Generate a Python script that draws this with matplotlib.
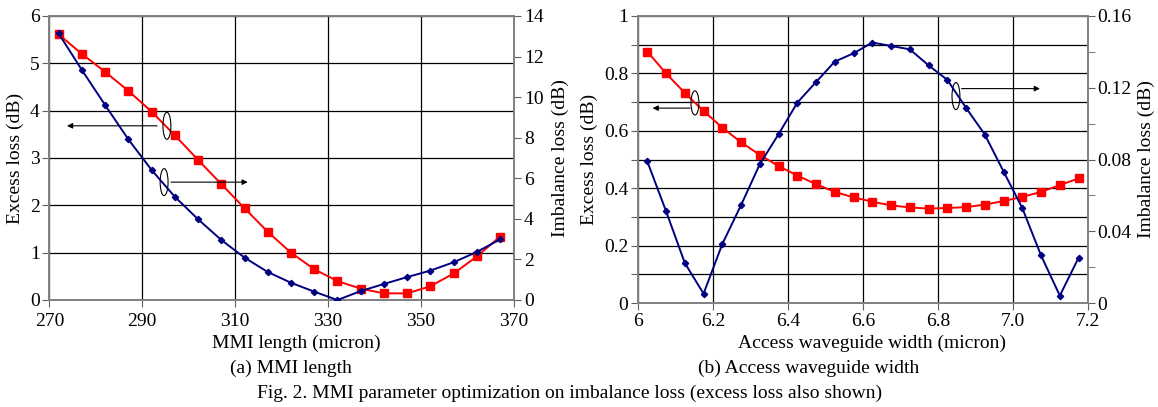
import numpy as np
import matplotlib
matplotlib.use("Agg")
from matplotlib import pyplot as plt
from matplotlib.patches import Ellipse
from matplotlib.ticker import MultipleLocator

# (a) MMI length sweep
mmi_length = [272, 277, 282, 287, 292, 297, 302, 307, 312, 317,
              322, 327, 332, 337, 342, 347, 352, 357, 362, 367]
mmi_excess = [5.61, 5.20, 4.82, 4.42, 3.98, 3.48, 2.96, 2.45, 1.94, 1.44,
              1.00, 0.65, 0.40, 0.24, 0.14, 0.14, 0.29, 0.56, 0.92, 1.34]
mmi_imbalance = [13.14, 11.34, 9.61, 7.92, 6.41, 5.09, 3.98, 2.96, 2.09, 1.38,
                 0.85, 0.41, 0.00, 0.44, 0.79, 1.13, 1.45, 1.86, 2.37, 2.99]

# (b) access waveguide width sweep
wg_width = [6.025, 6.075, 6.125, 6.175, 6.225, 6.275, 6.325, 6.375,
            6.425, 6.475, 6.525, 6.575, 6.625, 6.675, 6.725, 6.775,
            6.825, 6.875, 6.925, 6.975, 7.025, 7.075, 7.125, 7.175]
wg_excess = [0.876, 0.800, 0.732, 0.669, 0.611, 0.560, 0.516, 0.477,
             0.444, 0.414, 0.387, 0.368, 0.353, 0.340, 0.333, 0.329,
             0.331, 0.334, 0.343, 0.355, 0.370, 0.387, 0.411, 0.434]
wg_imbalance = [0.0789, 0.0512, 0.0223, 0.0052, 0.0329, 0.0546, 0.0774, 0.0941,
                0.1117, 0.1232, 0.1346, 0.1392, 0.1452, 0.1433, 0.1414, 0.1325,
                0.1244, 0.1088, 0.0939, 0.0733, 0.0529, 0.0265, 0.0041, 0.0252]

RED = "#ff0000"
BLUE = "#000080"
FS = 14

plt.rcParams["font.family"] = ["Liberation Serif", "DejaVu Serif"]
plt.rcParams["font.size"] = FS

fig = plt.figure(figsize=(11.58, 4.07), dpi=100)
W, H = 1158, 407


def style_axes(ax, axr, xpad):
    for a in (ax, axr):
        for s in a.spines.values():
            s.set_color("#808080")
            s.set_linewidth(1.2)
        a.tick_params(which="both", direction="out", color="#606060",
                      labelsize=FS, pad=2)
        a.tick_params(which="major", length=5)
        a.tick_params(which="minor", length=5)
    ax.tick_params(axis="x", pad=xpad)
    ax.grid(True, which="major", color="black", lw=0.9)
    ax.set_axisbelow(True)


def bubble(ax, center, w, h, start, end):
    ax.add_patch(Ellipse(center, w, h, fill=False, lw=0.8, ec="black", zorder=5))
    ax.annotate("", xy=end, xytext=start, zorder=5,
                arrowprops=dict(arrowstyle="-|>", lw=0.8, color="black",
                                mutation_scale=8, shrinkA=0, shrinkB=0))


def label_at(px, py, s):
    fig.text(px / W, 1 - py / H, s, ha="center", va="center", fontsize=FS)


# panel (a)
ax1 = fig.add_axes([0.0426, 0.2629, 0.4013, 0.6978])
ax1r = ax1.twinx()
ax1.plot(mmi_length, mmi_excess, color=RED, lw=1.4, marker="s", ms=5.5, zorder=3)
ax1r.plot(mmi_length, mmi_imbalance, color=BLUE, lw=1.4, marker="D", ms=3.2, zorder=3)
ax1.set_xlim(270, 370)
ax1.set_ylim(0, 6)
ax1r.set_ylim(0, 14)
ax1.set_xticks([270, 290, 310, 330, 350, 370])
ax1.yaxis.set_major_locator(MultipleLocator(1))
ax1r.yaxis.set_major_locator(MultipleLocator(2))
style_axes(ax1, ax1r, 4.5)
ax1.set_ylabel("Excess loss (dB)", labelpad=4)
ax1r.set_ylabel("Imbalance loss (dB)", labelpad=6)
bubble(ax1, (295.3, 3.68), 1.7, 0.57, (293.2, 3.68), (273.8, 3.68))
bubble(ax1, (294.7, 2.49), 1.7, 0.57, (296.2, 2.49), (312.7, 2.49))

# panel (b)
ax2 = fig.add_axes([0.5509, 0.2555, 0.3886, 0.7052])
ax2r = ax2.twinx()
ax2.plot(wg_width, wg_excess, color=RED, lw=1.4, marker="s", ms=5.5, zorder=3)
ax2r.plot(wg_width, wg_imbalance, color=BLUE, lw=1.4, marker="D", ms=3.2, zorder=3)
ax2.set_xlim(6.0, 7.2)
ax2.set_ylim(0, 1)
ax2r.set_ylim(0, 0.16)
ax2.set_xticks([6.0, 6.2, 6.4, 6.6, 6.8, 7.0, 7.2],
               ["6", "6.2", "6.4", "6.6", "6.8", "7.0", "7.2"])
ax2.set_yticks(np.arange(0, 1.01, 0.1),
               ["0", "", "0.2", "", "0.4", "", "0.6", "", "0.8", "", "1"])
ax2r.set_yticks([0, 0.04, 0.08, 0.12, 0.16], ["0", "0.04", "0.08", "0.12", "0.16"])
ax2r.yaxis.set_minor_locator(MultipleLocator(0.02))
style_axes(ax2, ax2r, 2.5)
ax2.set_ylabel("Excess loss (dB)", labelpad=4)
ax2r.set_ylabel("Imbalance loss (dB)", labelpad=4)
bubble(ax2, (6.152, 0.697), 0.021, 0.084, (6.139, 0.679), (6.039, 0.679))
bubble(ax2, (6.848, 0.721), 0.021, 0.094, (6.863, 0.747), (7.072, 0.747))

label_at(296, 343, "MMI length (micron)")
label_at(872, 343, "Access waveguide width (micron)")
label_at(291, 368, "(a) MMI length")
label_at(809, 368, "(b) Access waveguide width")
label_at(570, 393, "Fig. 2. MMI parameter optimization on imbalance loss (excess loss also shown)")

fig.savefig("out.png", dpi=100)
